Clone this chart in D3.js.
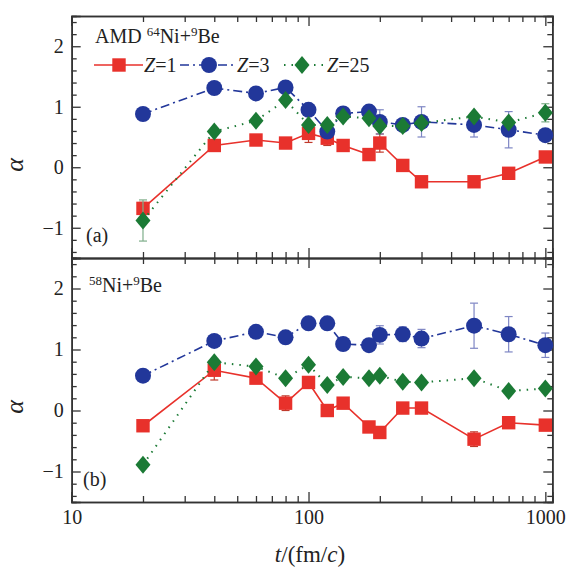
<!DOCTYPE html>
<html>
<head>
<meta charset="utf-8">
<script src="https://cdn.jsdelivr.net/npm/d3@7"></script>
<style>
  body { margin: 0; background: #fff; }
  svg text { font-family: "Liberation Serif", "DejaVu Serif", serif !important; fill: #222; }
</style>
</head>
<body>
<script>
// time points (fm/c)
var times = [20, 40, 60, 80, 100, 120, 140, 180, 200, 250, 300, 500, 700, 1000];

// panel (a): AMD 64Ni+9Be
var aZ1 = [-0.68, 0.36, 0.45, 0.40, 0.56, 0.48, 0.36, 0.21, 0.40, 0.03, -0.24, -0.24, -0.10, 0.17];
var aZ1err = [0.10, 0, 0, 0, 0.15, 0.12, 0, 0, 0.15, 0, 0, 0, 0, 0];
var aZ3 = [0.88, 1.31, 1.22, 1.32, 0.95, 0.59, 0.89, 0.92, 0.75, 0.70, 0.75, 0.70, 0.62, 0.53];
var aZ3err = [0, 0, 0, 0, 0, 0, 0, 0, 0.20, 0, 0.25, 0.20, 0.30, 0];
var aZ25 = [-0.88, 0.59, 0.77, 1.11, 0.70, 0.70, 0.84, 0.81, 0.68, 0.68, 0.73, 0.84, 0.74, 0.90];
var aZ25err = [0.34, 0, 0, 0, 0, 0, 0, 0, 0, 0, 0, 0, 0, 0.15];

// panel (b): 58Ni+9Be
var bZ1 = [-0.25, 0.66, 0.53, 0.12, 0.46, 0.00, 0.12, -0.27, -0.36, 0.04, 0.04, -0.47, -0.20, -0.24];
var bZ1err = [0, 0.16, 0, 0.12, 0, 0, 0, 0, 0, 0, 0, 0.12, 0, 0];
var bZ3 = [0.57, 1.14, 1.29, 1.20, 1.43, 1.43, 1.09, 1.07, 1.24, 1.25, 1.18, 1.39, 1.25, 1.07];
var bZ3err = [0, 0, 0, 0, 0.08, 0, 0, 0, 0.15, 0.12, 0.15, 0.37, 0.29, 0.20];
var bZ25 = [-0.89, 0.79, 0.72, 0.53, 0.75, 0.42, 0.55, 0.53, 0.57, 0.47, 0.46, 0.53, 0.32, 0.36];
var bZ25err = [0, 0, 0, 0, 0, 0, 0, 0, 0, 0, 0, 0, 0, 0];

var xMajor = [10, 100, 1000];
var yMajor = [-1, 0, 1, 2];

var red = "#e8312b", blue = "#22379a", green = "#1b7a35";

var W = 566, H = 572;
var left = 71.7, right = 552.3;
var svg = d3.select("body").append("svg").attr("width", W).attr("height", H);

var x = d3.scaleLog().domain([10, 1070]).range([left, right]);

var xMinor = [];
[10, 100].forEach(function(d) { for (var k = 2; k <= 9; k++) xMinor.push(d * k); });
var yMinor = d3.range(-14, 25, 2).map(function(d) { return d / 10; })
  .filter(function(d) { return Math.abs(d - Math.round(d)) > 0.01; });

function drawPanel(top, bottom, series, showX) {
  var y = d3.scaleLinear().domain([-1.5, 2.5]).range([bottom, top]);
  var g = svg.append("g");

  // frame + inward ticks on all four sides
  function ax(a, vals, len, fmt) {
    return a.tickValues(vals).tickSize(-len).tickPadding(8).tickFormat(fmt || "");
  }
  var gb = g.append("g").attr("transform", "translate(0," + bottom + ")");
  gb.call(ax(d3.axisBottom(x), xMinor, 6));
  gb.append("g").call(ax(d3.axisBottom(x), xMajor, 10, showX ? d3.format("d") : ""));
  var gt = g.append("g").attr("transform", "translate(0," + top + ")");
  gt.call(ax(d3.axisTop(x), xMinor, 6));
  gt.append("g").call(ax(d3.axisTop(x), xMajor, 10));
  var gl = g.append("g").attr("transform", "translate(" + left + ",0)");
  gl.call(ax(d3.axisLeft(y), yMinor, 5));
  gl.append("g").call(ax(d3.axisLeft(y), yMajor, 9, function(d) { return d < 0 ? "\u2212" + (-d) : d; }));
  var gr = g.append("g").attr("transform", "translate(" + right + ",0)");
  gr.call(ax(d3.axisRight(y), yMinor, 5));
  gr.append("g").call(ax(d3.axisRight(y), yMajor, 9));

  g.selectAll(".domain").attr("stroke", "#333").attr("stroke-width", 1.6);
  g.selectAll(".tick line").attr("stroke", "#333").attr("stroke-width", 1.3);
  g.selectAll(".tick text").attr("font-size", 20).attr("fill", "#222");

  series.forEach(function(s) {
    var pts = times.map(function(t, i) { return { t: t, v: s.vals[i], e: s.err[i] }; });
    var line = d3.line().x(function(d) { return x(d.t); }).y(function(d) { return y(d.v); });
    g.append("path").datum(pts).attr("d", line).attr("fill", "none")
      .attr("stroke", s.color).attr("stroke-width", s.lw).attr("stroke-dasharray", s.dash);

    var eb = g.append("g").selectAll("g").data(pts.filter(function(d) { return d.e > 0; }))
      .enter().append("g").attr("stroke", s.ecolor).attr("stroke-width", 1.2);
    eb.append("line").attr("x1", function(d) { return x(d.t); }).attr("x2", function(d) { return x(d.t); })
      .attr("y1", function(d) { return y(d.v - d.e); }).attr("y2", function(d) { return y(d.v + d.e); });
    [-1, 1].forEach(function(sg) {
      eb.append("line").attr("x1", function(d) { return x(d.t) - 4; }).attr("x2", function(d) { return x(d.t) + 4; })
        .attr("y1", function(d) { return y(d.v + sg * d.e); }).attr("y2", function(d) { return y(d.v + sg * d.e); });
    });

    g.append("g").selectAll("path").data(pts).enter().append("path")
      .attr("transform", function(d) { return "translate(" + x(d.t) + "," + y(d.v) + ")"; })
      .attr("d", s.symbol).attr("fill", s.color);
  });
  return y;
}

var sq = d3.symbol().type(d3.symbolSquare).size(180)();
var ci = d3.symbol().type(d3.symbolCircle).size(200)();
var di = "M0,-9L7.5,0L0,9L-7.5,0Z";

function makeSeries(z1, e1, z3, e3, z25, e25) {
  return [
    { vals: z1, err: e1, color: red, ecolor: "#c0392b", lw: 1.6, dash: null, symbol: sq },
    { vals: z3, err: e3, color: blue, ecolor: "#7e86c4", lw: 1.6, dash: "9,4,2,4", symbol: ci },
    { vals: z25, err: e25, color: green, ecolor: "#7fae8a", lw: 2, dash: "1.5,6", symbol: di }
  ];
}

drawPanel(16, 258, makeSeries(aZ1, aZ1err, aZ3, aZ3err, aZ25, aZ25err), false);
drawPanel(258, 502, makeSeries(bZ1, bZ1err, bZ3, bZ3err, bZ25, bZ25err), true);

// panel texts
function nuc(xp, yp, parts) {
  var tx = svg.append("text").attr("x", xp).attr("y", yp).attr("font-size", 20);
  parts.forEach(function(p) {
    var ts = tx.append("tspan").text(p[0]);
    if (p[1] === "sup") ts.attr("font-size", 13).attr("dy", -7);
    if (p[1] === "down") ts.attr("dy", 7);
  });
}
nuc(95, 43, [["AMD "], ["64", "sup"], ["Ni+", "down"], ["9", "sup"], ["Be", "down"]]);
nuc(89, 292, [["58", "sup"], ["Ni+", "down"], ["9", "sup"], ["Be", "down"]]);
svg.append("text").attr("x", 86).attr("y", 242).attr("font-size", 20).text("(a)");
svg.append("text").attr("x", 83).attr("y", 486).attr("font-size", 20).text("(b)");

// legend
var ly = 65;
var leg = [
  { x1: 94, x2: 143, cx: 119, tx: 144, color: red, dash: null, lw: 1.6, symbol: sq, lab: "1" },
  { x1: 180, x2: 234, cx: 209, tx: 237, color: blue, dash: "9,4,2,4", lw: 1.6, symbol: ci, lab: "3" },
  { x1: 284, x2: 324, cx: 302, tx: 327, color: green, dash: "1.5,6", lw: 2, symbol: di, lab: "25" }
];
leg.forEach(function(l) {
  svg.append("line").attr("x1", l.x1).attr("x2", l.x2).attr("y1", ly).attr("y2", ly)
    .attr("stroke", l.color).attr("stroke-width", l.lw).attr("stroke-dasharray", l.dash);
  svg.append("path").attr("d", l.symbol).attr("fill", l.color)
    .attr("transform", "translate(" + l.cx + "," + ly + ")");
  var t = svg.append("text").attr("x", l.tx).attr("y", ly + 7).attr("font-size", 20);
  t.append("tspan").attr("font-style", "italic").text("Z");
  t.append("tspan").text("=" + l.lab);
});

// axis titles
[165, 407].forEach(function(cy) {
  svg.append("text").attr("transform", "translate(23," + cy + ") rotate(-90)")
    .attr("text-anchor", "middle").attr("font-size", 26).attr("font-style", "italic").text("\u03b1");
});
var xl = svg.append("text").attr("x", 310).attr("y", 562).attr("text-anchor", "middle").attr("font-size", 23);
xl.append("tspan").attr("font-style", "italic").text("t");
xl.append("tspan").text("/(fm/");
xl.append("tspan").attr("font-style", "italic").text("c");
xl.append("tspan").text(")");
</script>
</body>
</html>
